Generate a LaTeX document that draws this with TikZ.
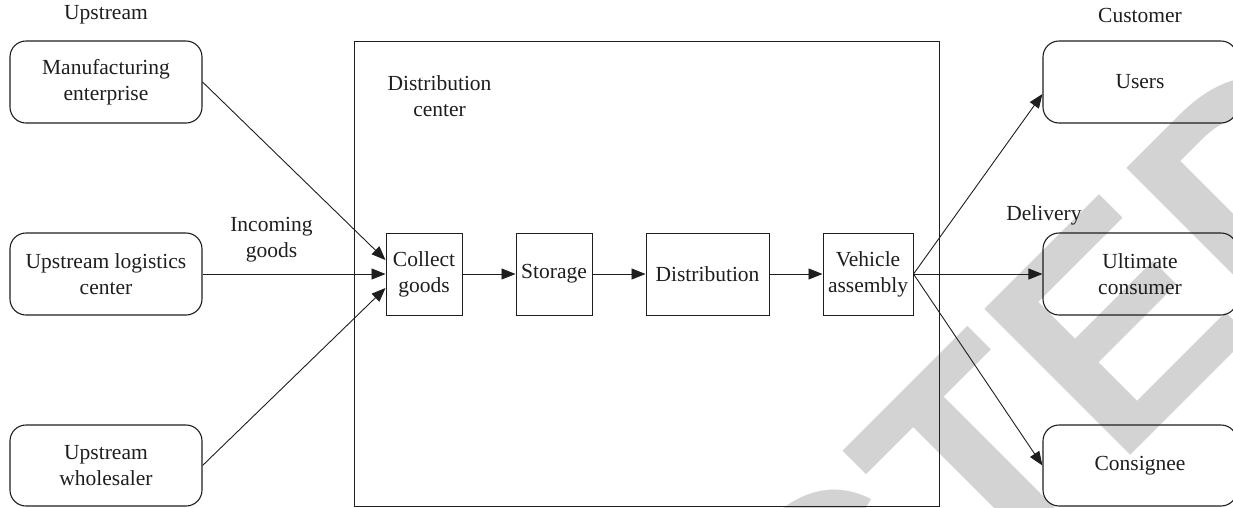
\documentclass[tikz,border=0pt]{standalone}
\usepackage{fontspec}
\setmainfont{Liberation Serif}
\newfontfamily\stampfont{Liberation Sans}
\usetikzlibrary{arrows.meta}
\definecolor{stampgray}{RGB}{211,211,211}
\definecolor{ink}{RGB}{30,30,30}
\begin{document}
\begin{tikzpicture}[x=1pt,y=-1pt,
  txt/.style={font=\fontsize{21.5}{26}\selectfont, align=center, inner sep=0pt, text=ink},
  roundbox/.style={txt, draw=ink, line width=1.1pt, rounded corners=16pt,
    minimum width=192pt, minimum height=82pt},
  stagebox/.style={txt, draw=ink, line width=1pt, minimum height=82pt},
  flow/.style={draw=ink, line width=0.9pt, -{Triangle[length=14pt,width=11pt]}},
  stamp/.style={inner sep=0pt, text=stampgray, transform shape,
    font=\stampfont\bfseries\fontsize{300}{300}\selectfont}]
\useasboundingbox (0,0) rectangle (1233,507);
\clip (0,0) rectangle (1233,507);

% retraction stamp behind the chart
\begin{scope}[shift={(839pt,-443pt)}, rotate=45]
  \node[stamp, anchor=base west] (stampB) at (-6pt,-215pt) {TED};
  \node[stamp, anchor=base east] (stampA) at (-6pt,-215pt) {RETRAC};
\end{scope}

% distribution center frame
\draw[draw=ink, line width=1pt] (354,41) rectangle (939,506);
\node[txt] (dclabel) at (439.5,96) {Distribution\\center};

% column headings
\node[txt] (upstream) at (106,15) {Upstream};
\node[txt] (customer) at (1140,15) {Customer};

% suppliers
\node[roundbox] (manu) at (106,82) {Manufacturing\\enterprise};
\node[roundbox] (ulc) at (106,274) {Upstream logistics\\center};
\node[roundbox, minimum height=81pt] (whole) at (106,465.5) {Upstream\\wholesaler};

% receivers
\node[roundbox, minimum width=194pt] (users) at (1140,82) {Users};
\node[roundbox, minimum width=194pt] (ultimate) at (1140,274) {Ultimate\\consumer};
\node[roundbox, minimum width=194pt, minimum height=81pt] (consignee) at (1140,465.5) {Consignee};

% process chain
\node[stagebox, minimum width=76pt] (collect) at (424,274) {Collect\\goods};
\node[stagebox, minimum width=76pt] (storage) at (554,274) {Storage};
\node[stagebox, minimum width=123pt] (distr) at (707.5,274) {Distribution};
\node[stagebox, minimum width=90pt] (vehicle) at (868,274) {Vehicle\\assembly};

% edge labels
\node[txt] (incoming) at (271.5,240) {Incoming\\goods};
\node[txt] (delivery) at (1044,215) {Delivery};

% inbound flows
\draw[flow] (manu.east) -- ([yshift=14pt]collect.west);
\draw[flow] (ulc.east) -- (collect.west);
\draw[flow] (whole.east) -- ([yshift=-14pt]collect.west);

% internal flows
\draw[flow] (collect) -- (storage);
\draw[flow] (storage) -- (distr);
\draw[flow] (distr) -- (vehicle);

% outbound flows
\draw[flow] (vehicle.east) -- ([yshift=-12pt]users.west);
\draw[flow] (vehicle.east) -- (ultimate.west);
\draw[flow] (vehicle.east) -- (consignee.west);
\end{tikzpicture}
\end{document}
